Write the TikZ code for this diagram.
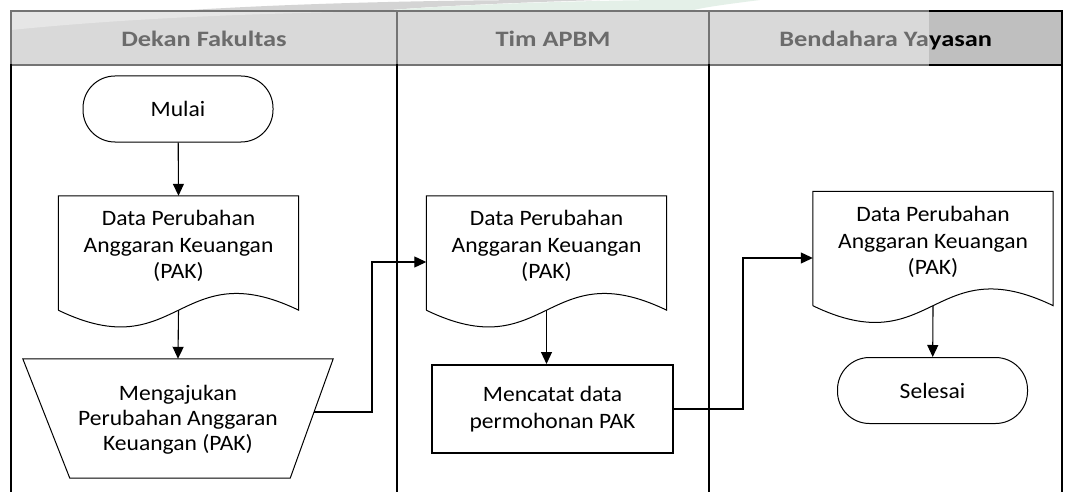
\documentclass[tikz,border=0pt]{standalone}
\usepackage{fontspec}
\setmainfont{Carlito}[FakeStretch=1.07]
\newfontfamily\hdrfont{Carlito}[FakeStretch=1.2]
\usetikzlibrary{arrows.meta,calc}
\definecolor{hdrfill}{HTML}{D9D9D9}
\definecolor{hdrdark}{HTML}{BFBFBF}
\definecolor{hdrtext}{HTML}{6B6B6B}
\definecolor{hdrline}{HTML}{747474}
\definecolor{wmgray}{HTML}{D4D4D4}
\definecolor{wmgreen}{HTML}{E4F0E8}
\begin{document}
\begin{tikzpicture}[x=1pt,y=-1pt,
  txt/.style={align=center,font=\fontsize{22}{26.5}\selectfont,inner sep=0pt},
  hdr/.style={font=\hdrfont\bfseries\fontsize{22}{26}\selectfont,text=hdrtext,inner sep=0pt,anchor=base},
  shapeline/.style={line width=1pt},
  term/.style={txt,draw,line width=1pt,rounded corners=32pt,minimum width=190pt,minimum height=66pt},
  docbox/.style={inner sep=0pt,draw=none,minimum width=240pt,minimum height=114pt},
  tzbox/.style={inner sep=0pt,draw=none,minimum width=310pt,minimum height=119pt},
  procbox/.style={txt,draw,line width=2pt,minimum width=241pt,minimum height=88pt},
  flow/.style={-{Triangle[length=12pt,width=11pt]},line width=1.1pt},
  lane/.style={line width=2pt},
  hline/.style={hdrline,line width=1.5pt}]
\useasboundingbox (0,0) rectangle (1070,492);
\fill[white] (0,0) rectangle (1070,492);
% faint watermark above header
\fill[wmgray] (175,11) .. controls (280,4) and (420,0) .. (560,0) -- (600,0) .. controls (500,3) and (420,7) .. (380,11) -- cycle;
\fill[wmgreen] (380,11) .. controls (450,5) and (560,1) .. (660,0) -- (760,0) .. controls (720,5) and (700,8) .. (690,11) -- cycle;
% header
\fill[hdrfill] (11,11) rectangle (1062,65);
\fill[white,opacity=0.35] (11,30) .. controls (150,16) and (300,12) .. (420,11) -- (11,11) -- cycle;
\fill[hdrdark] (929,11) rectangle (1062,65);
\draw[hline] (11,65) -- (11,11) -- (929,11);
\draw[hline] (11,65) -- (929,65);
\draw[hline] (397,11) -- (397,65);
\draw[hline] (709,11) -- (709,65);
\draw[line width=1.5pt] (929,11) -- (1062,11) -- (1062,65) -- (929,65);
% lanes
\draw[lane] (11,64) -- (11,492);
\draw[lane] (397,64) -- (397,492);
\draw[lane] (709,64) -- (709,492);
\draw[lane] (1062,64) -- (1062,492);
% header texts
\node[hdr] (h1) at (204,47) {Dekan Fakultas};
\node[hdr] (h2) at (553,47) {Tim APBM};
\node[hdr,anchor=base east] (h3a) at (929,47) {Bendahara Ya};
\node[hdr,anchor=base west,text=black] (h3b) at (929,47) {yasan};
% column 1
\node[term] (start) at (178,109) {Mulai};
\node[docbox] (d1) at (178.5,253) {};
\draw[shapeline] (d1.south west) -- (d1.north west) -- (d1.north east) -- (d1.south east)
  .. controls +(-120,-58) and +(120,58) .. (d1.south west);
\node[txt] (d1t) at (178.5,246) {Data Perubahan\\Anggaran Keuangan\\(PAK)};
\node[tzbox] (tz) at (178,418.5) {};
\draw[shapeline] (tz.north west) -- (tz.north east) -- ($(tz.south east)+(-43,0)$) -- ($(tz.south west)+(47,0)$) -- cycle;
\node[txt,font=\fontsize{22}{25}\selectfont] (tzt) at (178,420) {Mengajukan\\Perubahan Anggaran\\Keuangan (PAK)};
\coordinate (tzr) at (314,412);
% column 2
\node[docbox] (d2) at (546.5,253) {};
\draw[shapeline] (d2.south west) -- (d2.north west) -- (d2.north east) -- (d2.south east)
  .. controls +(-120,-58) and +(120,58) .. (d2.south west);
\node[txt] (d2t) at (546.5,246) {Data Perubahan\\Anggaran Keuangan\\(PAK)};
\node[procbox] (p) at (552.5,409) {Mencatat data\\permohonan PAK};
% column 3
\node[docbox] (d3) at (933,248.5) {};
\draw[shapeline] (d3.south west) -- (d3.north west) -- (d3.north east) -- (d3.south east)
  .. controls +(-120,-58) and +(120,58) .. (d3.south west);
\node[txt] (d3t) at (933,242) {Data Perubahan\\Anggaran Keuangan\\(PAK)};
\node[term] (end) at (932.5,390.5) {Selesai};
% connectors
\draw[flow] (start) -- (d1.north);
\draw[flow] (d1.south) -- (tz.north);
\draw[flow] (tzr) -- (372,412) |- ($(d2.west)+(0,9)$);
\draw[flow] (d2.south) -- (d2.south |- p.north);
\draw[flow] (p.east) -- (743,409) |- ($(d3.west)+(0,9.5)$);
\draw[flow] (d3.south) -- (end);
\end{tikzpicture}
\end{document}
